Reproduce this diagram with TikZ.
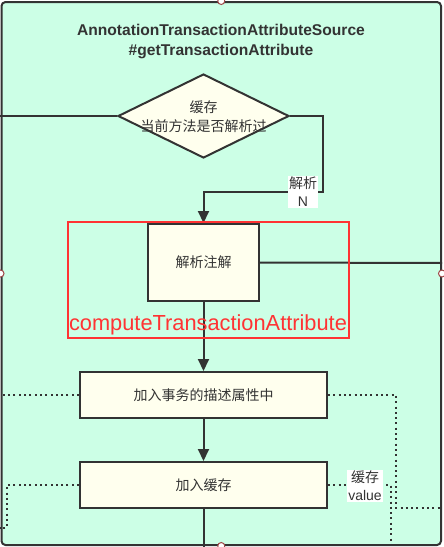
\documentclass[tikz,border=0pt]{standalone}
\usepackage{fontspec}
\setmainfont{Liberation Sans}
\newfontfamily\cjk{Noto Sans CJK SC}
\usetikzlibrary{shapes.geometric,arrows.meta}
\definecolor{dk}{HTML}{333333}
\definecolor{mint}{HTML}{CCFFE6}
\definecolor{ivory}{HTML}{FFFFEE}
\definecolor{redline}{HTML}{FF3333}
\definecolor{portred}{HTML}{A04848}
\tikzset{
  proc/.style={draw=dk, fill=ivory, line width=2pt, inner sep=0pt, align=center,
    font=\cjk\fontsize{14}{18}\selectfont, text=dk},
  conn/.style={draw=dk, line width=2pt},
  arr/.style={conn, -{Triangle[length=12pt,width=11pt]}},
  dots/.style={draw=dk, line width=2pt, dash pattern=on 2pt off 3.3pt},
  lbl/.style={fill=white, inner sep=1pt, align=center, text=dk,
    font=\fontsize{14}{18}\selectfont},
  port/.style={circle, draw=portred, fill=white, line width=1pt, minimum size=7pt, inner sep=0pt},
}
\begin{document}
\begin{tikzpicture}[x=1pt,y=-1pt]
\useasboundingbox (0,0) rectangle (444,547);
% container
\node[draw=dk, fill=mint, line width=2pt, rounded corners=4pt, minimum width=439.5pt,
  minimum height=543pt, inner sep=0pt] (frame) at (221.25,273.5) {};
\node[align=center, text=dk, font=\bfseries\fontsize{15.6}{20.5}\selectfont] (title) at (221,41.5)
  {AnnotationTransactionAttributeSource\\\#getTransactionAttribute};
% decision
\node[diamond, aspect=2, draw=dk, fill=ivory, line width=2pt, inner sep=0pt,
  minimum width=171pt, minimum height=84pt] (dia) at (203.5,116) {};
\node[align=center, text=dk, font=\cjk\fontsize{14}{19}\selectfont] (diatext) at (203.5,117) {缓存\\当前方法是否解析过};
% process boxes
\node[proc, minimum width=111pt, minimum height=77pt] (parse) at (203.5,262.5) {解析注解};
\node[proc, minimum width=247pt, minimum height=46pt] (desc) at (203.5,395) {加入事务的描述属性中};
\node[proc, minimum width=247pt, minimum height=46pt] (cache) at (203.5,485) {加入缓存};
% free ends
\coordinate (lend) at (0,116);
\coordinate (rend) at (442,263);
\coordinate (bend) at (203.5,547);
\coordinate (dlend) at (0,395);
\coordinate (drend) at (442,508);
\coordinate (cbend) at (391,547);
\coordinate (clend) at (0,528);
% connectors
\draw[conn] (dia.west) -- (lend);
\draw[arr] (dia.east) -- (323,116) -- (323,192) -- (203.5,192) -- (parse.north);
\node[lbl] (nlabel) at (303,192) {{\cjk 解析}\\N};
\draw[conn] (parse.east) -- (rend);
\draw[arr] (parse.south) -- (desc.north);
\draw[arr] (desc.south) -- (cache.north);
\draw[conn] (cache.south) -- (bend);
\draw[dots] (desc.west) -- (dlend);
\draw[dots] (desc.east) -- (396,395) -- (396,508) -- (drend);
\draw[dots] (cache.east) -- (391,485) -- (cbend);
\node[lbl] (vlabel) at (365,486) {{\cjk 缓存}\\value};
\draw[dots] (cache.west) -- (7,485) -- (7,528) -- (clend);
% red annotation
\node[draw=redline, line width=2pt, minimum width=281pt, minimum height=116pt, inner sep=0pt] (redbox) at (208.5,280) {};
\node[text=redline, inner sep=0pt, font=\fontsize{21.8}{24}\selectfont] (redtext) at (208,325) {computeTransactionAttribute};
% ports
\node[port] (pn) at (frame.north) {};
\node[port] (pw) at (frame.west) {};
\node[port] (pe) at (frame.east) {};
\node[port] (ps) at (frame.south) {};
\end{tikzpicture}
\end{document}
